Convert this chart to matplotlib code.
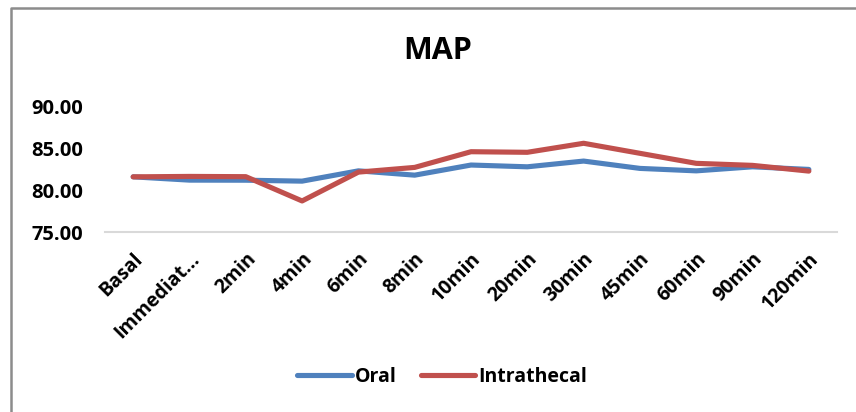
import numpy as np
import matplotlib
matplotlib.use("Agg")
import matplotlib.pyplot as plt
from matplotlib.lines import Line2D

plt.rcParams['font.family'] = ['Open Sans', 'DejaVu Sans']
plt.rcParams['font.weight'] = 'bold'

# mean arterial pressure over time
times = ["Basal", "Immediat...", "2min", "4min", "6min", "8min", "10min",
         "20min", "30min", "45min", "60min", "90min", "120min"]
oral = [81.60, 81.21, 81.20, 81.09, 82.31, 81.80, 83.00,
        82.79, 83.47, 82.60, 82.31, 82.79, 82.48]
intrathecal = [81.60, 81.65, 81.62, 78.74, 82.16, 82.72, 84.58,
               84.51, 85.58, 84.39, 83.20, 82.96, 82.28]

fig = plt.figure(figsize=(8.56, 4.12), dpi=100)
ax = fig.add_axes([0.1227, 0.4357, 0.8551, 0.307])

x = np.arange(len(times))
ax.plot(x, oral, color='#4F81BD', lw=3.7, solid_capstyle='round', label='Oral')
ax.plot(x, intrathecal, color='#C0504D', lw=3.7, solid_capstyle='round', label='Intrathecal')

ax.set_xlim(-0.5, len(times) - 0.5)
ax.set_ylim(75, 90)
ax.set_yticks([75, 80, 85, 90])
ax.set_yticklabels(['%.2f' % v for v in [75, 80, 85, 90]], fontsize=14.5, fontweight='bold')
ax.set_xticks(x)
ax.set_xticklabels(times, rotation=45, ha='right', rotation_mode='anchor',
                   fontsize=14, fontweight='bold')
ax.tick_params(axis='both', length=0)
ax.tick_params(axis='y', pad=16)
ax.tick_params(axis='x', pad=12)

for s in ['top', 'right', 'left']:
    ax.spines[s].set_visible(False)
ax.spines['bottom'].set_color('#D9D9D9')
ax.spines['bottom'].set_linewidth(1.5)

fig.text(438 / 856, 0.877, 'MAP', ha='center', va='center', fontsize=22, fontweight='bold')

handles = [Line2D([], [], color='#4F81BD', lw=3.7, solid_capstyle='round'),
           Line2D([], [], color='#C0504D', lw=3.7, solid_capstyle='round')]
fig.legend(handles, ['Oral', 'Intrathecal'], loc='center', ncol=2,
           bbox_to_anchor=(442 / 856, 1 - 377 / 412), frameon=False,
           prop={'size': 14, 'weight': 'bold'}, handlelength=2.8,
           handletextpad=0.15, columnspacing=1.25)

# chart frame
fig.add_artist(Line2D([10.5 / 856, 10.5 / 856, 1.0], [0.0, 1 - 7.5 / 412, 1 - 7.5 / 412],
                      transform=fig.transFigure, color='#8C8C8C', lw=1.8))

fig.savefig('out.png', dpi=100)
